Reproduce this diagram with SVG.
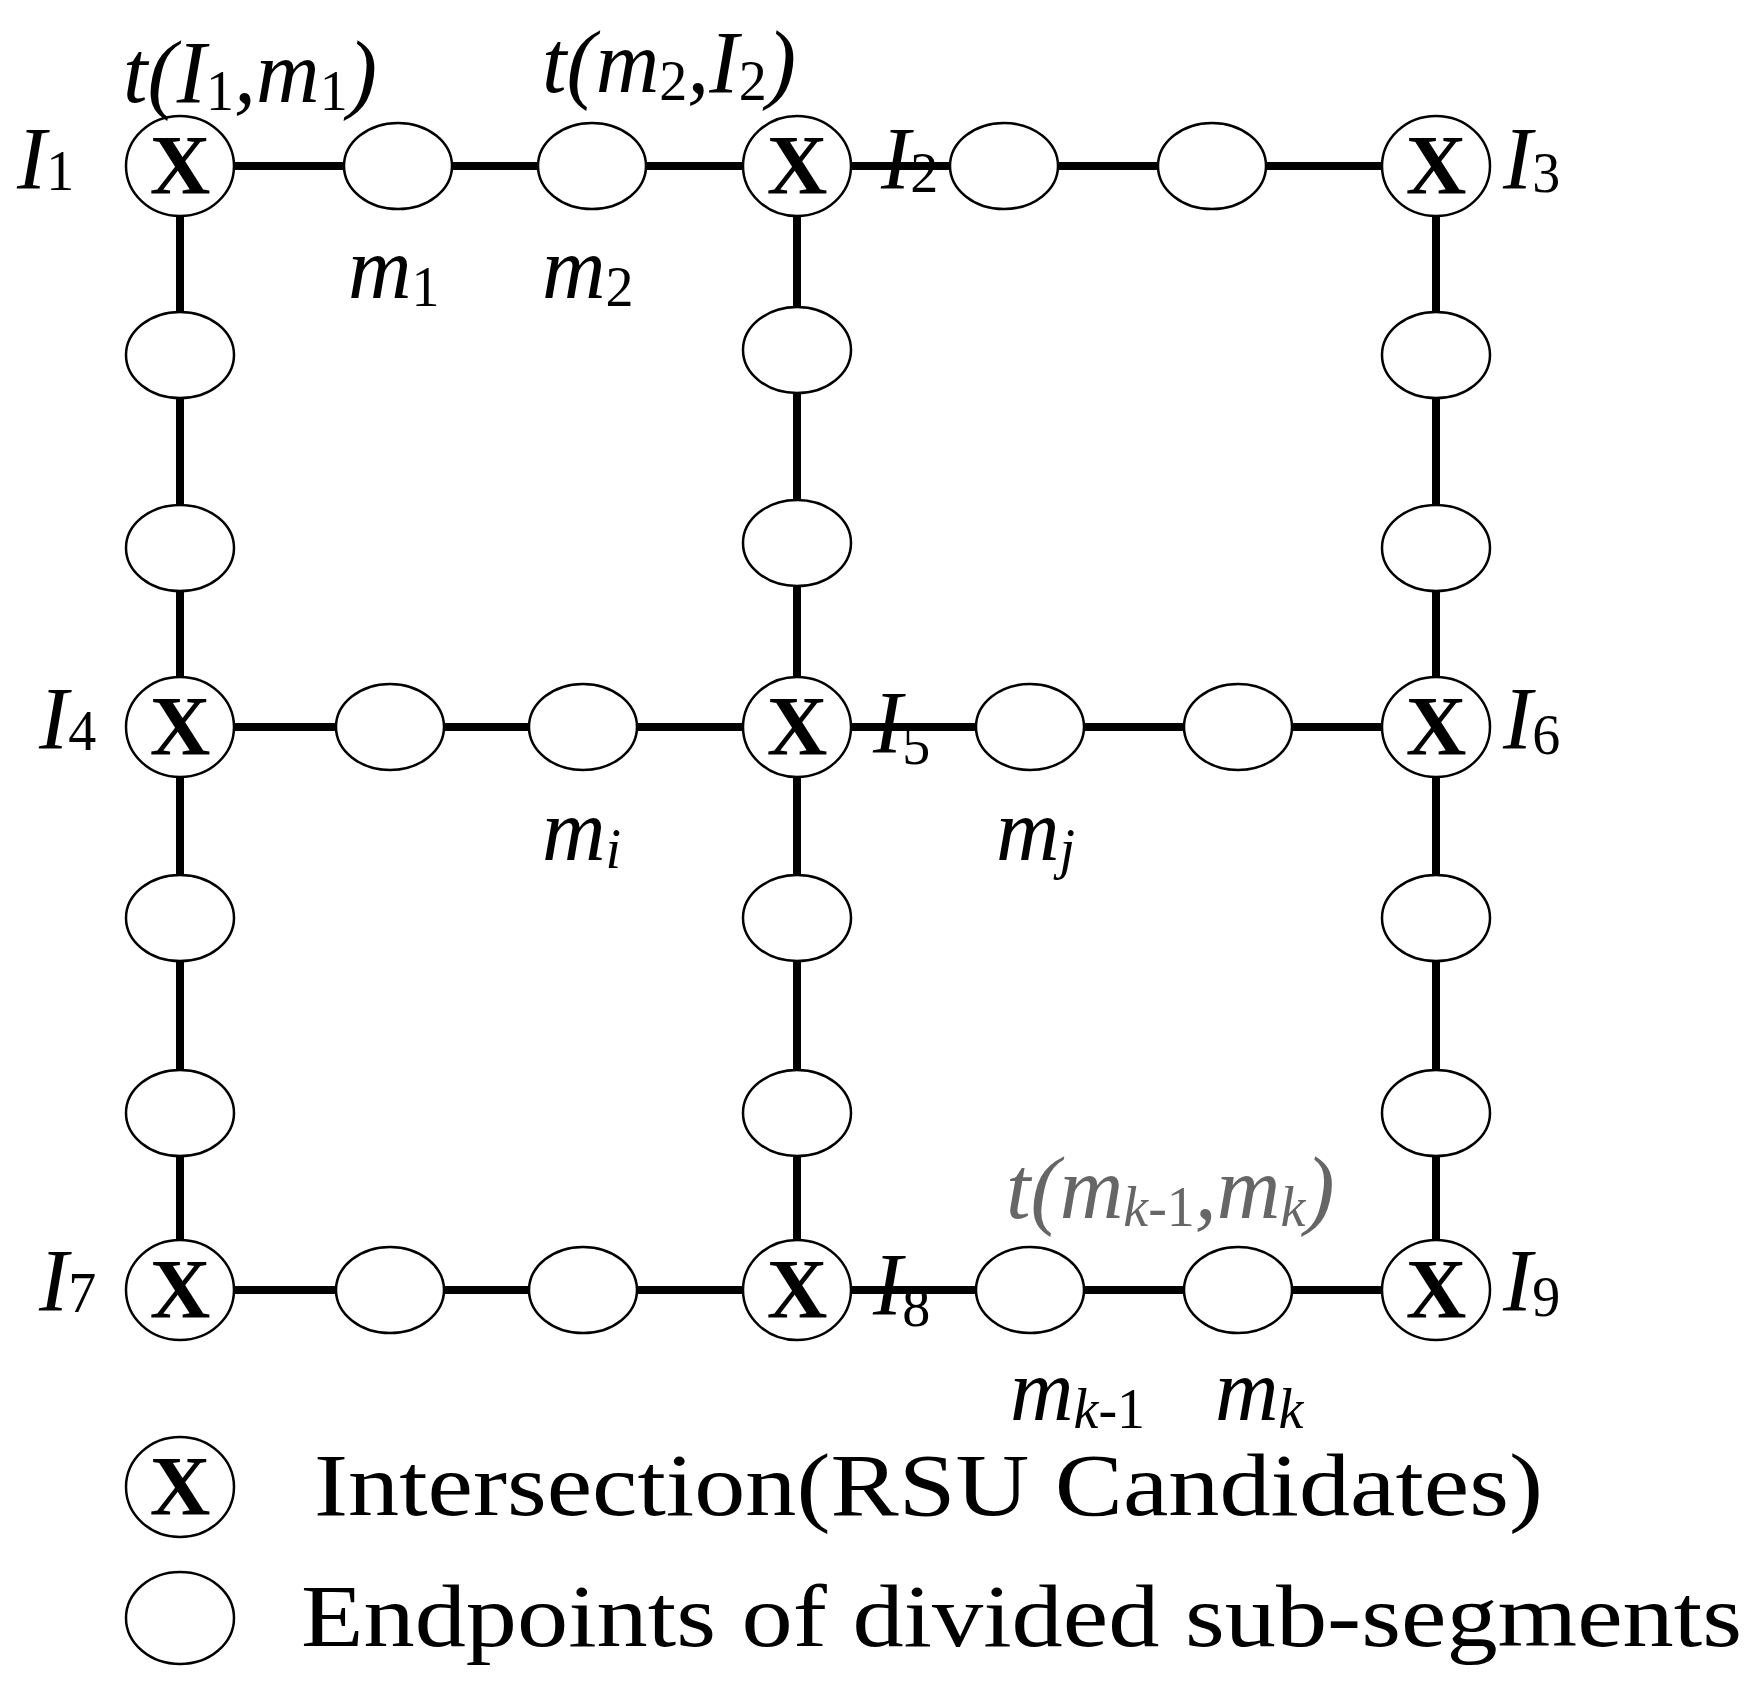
<svg xmlns="http://www.w3.org/2000/svg" width="1759" height="1690" viewBox="0 0 1759 1690">
<style>
.e{fill:#fff;stroke:#000;stroke-width:2.5}
.x{font-family:"Liberation Serif","Times New Roman",serif;font-weight:bold;font-size:84px;text-anchor:middle}
.l{font-family:"Liberation Serif","Times New Roman",serif;font-style:italic;font-size:88px}
.s{font-size:56px;font-style:normal}
.si{font-size:56px}
.g{fill:#666}
.c line{stroke:#000;stroke-width:8}
.lg{font-family:"Liberation Serif","Times New Roman",serif;font-size:88px}
</style>
<rect width="1759" height="1690" fill="#fff"/>
<g class="c" id="connectors">
<line x1="180" y1="166" x2="1436" y2="166"/>
<line x1="180" y1="727" x2="1436" y2="727"/>
<line x1="180" y1="1290" x2="1436" y2="1290"/>
<line x1="180" y1="166" x2="180" y2="1290"/>
<line x1="797" y1="166" x2="797" y2="1290"/>
<line x1="1436" y1="166" x2="1436" y2="1290"/>
</g>
<g id="ovals">
<ellipse class="e" cx="398" cy="166" rx="54" ry="43"/>
<ellipse class="e" cx="592" cy="166" rx="54" ry="43"/>
<ellipse class="e" cx="1004" cy="166" rx="54" ry="43"/>
<ellipse class="e" cx="1212" cy="166" rx="54" ry="43"/>
<ellipse class="e" cx="390" cy="727" rx="54" ry="43"/>
<ellipse class="e" cx="583" cy="727" rx="54" ry="43"/>
<ellipse class="e" cx="1030" cy="727" rx="54" ry="43"/>
<ellipse class="e" cx="1238" cy="727" rx="54" ry="43"/>
<ellipse class="e" cx="390" cy="1290" rx="54" ry="43"/>
<ellipse class="e" cx="583" cy="1290" rx="54" ry="43"/>
<ellipse class="e" cx="1030" cy="1290" rx="54" ry="43"/>
<ellipse class="e" cx="1238" cy="1290" rx="54" ry="43"/>
<ellipse class="e" cx="180" cy="355" rx="54" ry="43"/>
<ellipse class="e" cx="180" cy="548" rx="54" ry="43"/>
<ellipse class="e" cx="180" cy="918" rx="54" ry="43"/>
<ellipse class="e" cx="180" cy="1113" rx="54" ry="43"/>
<ellipse class="e" cx="797" cy="350" rx="54" ry="43"/>
<ellipse class="e" cx="797" cy="543" rx="54" ry="43"/>
<ellipse class="e" cx="797" cy="918" rx="54" ry="43"/>
<ellipse class="e" cx="797" cy="1113" rx="54" ry="43"/>
<ellipse class="e" cx="1436" cy="355" rx="54" ry="43"/>
<ellipse class="e" cx="1436" cy="548" rx="54" ry="43"/>
<ellipse class="e" cx="1436" cy="918" rx="54" ry="43"/>
<ellipse class="e" cx="1436" cy="1113" rx="54" ry="43"/>
</g>
<g id="I1"><ellipse class="e" cx="180" cy="166" rx="54" ry="50"/><text class="x" x="180" y="194">X</text></g>
<g id="I2"><ellipse class="e" cx="797" cy="166" rx="54" ry="50"/><text class="x" x="797" y="194">X</text></g>
<g id="I3"><ellipse class="e" cx="1436" cy="166" rx="54" ry="50"/><text class="x" x="1436" y="194">X</text></g>
<g id="I4"><ellipse class="e" cx="180" cy="727" rx="54" ry="50"/><text class="x" x="180" y="755">X</text></g>
<g id="I5"><ellipse class="e" cx="797" cy="727" rx="54" ry="50"/><text class="x" x="797" y="755">X</text></g>
<g id="I6"><ellipse class="e" cx="1436" cy="727" rx="54" ry="50"/><text class="x" x="1436" y="755">X</text></g>
<g id="I7"><ellipse class="e" cx="180" cy="1290" rx="54" ry="50"/><text class="x" x="180" y="1318">X</text></g>
<g id="I8"><ellipse class="e" cx="797" cy="1290" rx="54" ry="50"/><text class="x" x="797" y="1318">X</text></g>
<g id="I9"><ellipse class="e" cx="1436" cy="1290" rx="54" ry="50"/><text class="x" x="1436" y="1318">X</text></g>
<g id="labels">
<text class="l" x="17" y="188">I<tspan class="s" dy="2">1</tspan></text>
<text class="l" x="881" y="188">I<tspan class="s" dy="4">2</tspan></text>
<text class="l" x="1503" y="188">I<tspan class="s" dy="4">3</tspan></text>
<text class="l" x="39" y="748">I<tspan class="s" dy="2">4</tspan></text>
<text class="l" x="873" y="752">I<tspan class="s" dy="12">5</tspan></text>
<text class="l" x="1503" y="748">I<tspan class="s" dy="6">6</tspan></text>
<text class="l" x="39" y="1310">I<tspan class="s" dy="2">7</tspan></text>
<text class="l" x="873" y="1314">I<tspan class="s" dy="12">8</tspan></text>
<text class="l" x="1503" y="1310">I<tspan class="s" dy="6">9</tspan></text>
<text class="l" x="123" y="102">t(I<tspan class="s" dy="8">1</tspan><tspan dy="-8">,m</tspan><tspan class="s" dy="8">1</tspan><tspan dy="-8">)</tspan></text>
<text class="l" x="542" y="92">t(m<tspan class="s" dy="8">2</tspan><tspan dy="-8">,I</tspan><tspan class="s" dy="8">2</tspan><tspan dy="-8">)</tspan></text>
<text class="l" x="348" y="298">m<tspan class="s" dy="8">1</tspan></text>
<text class="l" x="542" y="298">m<tspan class="s" dy="8">2</tspan></text>
<text class="l" x="542" y="860">m<tspan class="si" dy="8">i</tspan></text>
<text class="l" x="996" y="860">m<tspan class="si" dy="8">j</tspan></text>
<text class="l" x="1010" y="1420">m<tspan class="si" dy="8">k</tspan><tspan class="s">-1</tspan></text>
<text class="l" x="1215" y="1420">m<tspan class="si" dy="8">k</tspan></text>
<text class="l g" x="1006" y="1218">t(m<tspan class="si" dy="8">k</tspan><tspan class="s">-1</tspan><tspan dy="-8">,m</tspan><tspan class="si" dy="8">k</tspan><tspan dy="-8">)</tspan></text>
</g>
<g id="legend">
<ellipse class="e" cx="180" cy="1487" rx="54" ry="50"/><text class="x" x="180" y="1515">X</text>
<text class="lg" x="314" y="1515" textLength="1229" lengthAdjust="spacingAndGlyphs">Intersection(RSU Candidates)</text>
<ellipse class="e" cx="180" cy="1618" rx="54" ry="46"/>
<text class="lg" x="301" y="1646" textLength="1441" lengthAdjust="spacingAndGlyphs">Endpoints of divided sub-segments</text>
</g>
</svg>
